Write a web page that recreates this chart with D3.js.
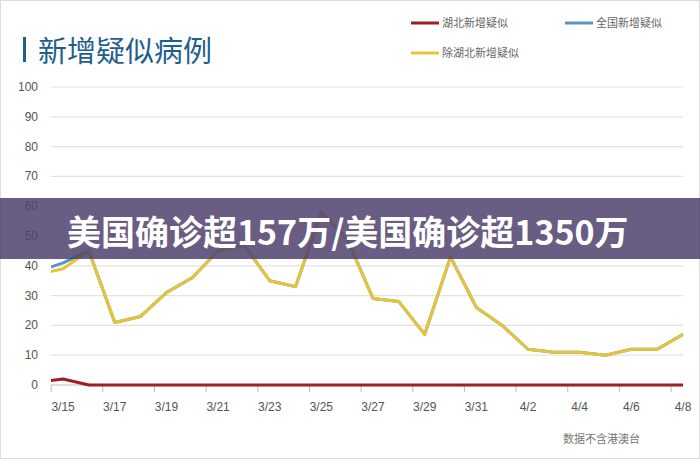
<!DOCTYPE html>
<html><head><meta charset="utf-8">
<script src="https://cdn.jsdelivr.net/npm/d3@7"></script>
<style>body{margin:0;background:#fff}svg{display:block;font-family:"Noto Sans CJK SC",sans-serif}</style>
</head><body><svg id="c" width="700" height="459"></svg>
<script>
// first entry (3/14) only shows as the stub at the left edge
var dates = ["3/14","3/15","3/16","3/17","3/18","3/19","3/20","3/21","3/22","3/23","3/24","3/25","3/26","3/27","3/28","3/29","3/30","3/31","4/1","4/2","4/3","4/4","4/5","4/6","4/7","4/8"];
var hubei = [1,2,0,0,0,0,0,0,0,0,0,0,0,0,0,0,0,0,0,0,0,0,0,0,0,0];
var others = [37,39,45,21,23,31,36,45,47,35,33,58,49,29,28,17,43,26,20,12,11,11,10,12,12,17];
var national = others.map(function(v,i){ return v + hubei[i]; });
var yTicks = [0,10,20,30,40,50,60,70,80,90,100];
var tickLabels = ["3/15","3/17","3/19","3/21","3/23","3/25","3/27","3/29","3/31","4/2","4/4","4/6","4/8"];

var svg = d3.select("#c");
svg.append("rect").attr("x",0.5).attr("y",0.5).attr("width",699).attr("height",458).attr("fill","none").attr("stroke","#ddd");

var left = 51, right = 683;
var x = d3.scalePoint().domain(dates).range([right - 25.83*25, right]);
var y = d3.scaleLinear().domain([0,100]).range([385,87]);

svg.append("clipPath").attr("id","clip").append("rect").attr("x",left).attr("y",0).attr("width",right-left+5).attr("height",459);

svg.selectAll(".grid").data(yTicks).enter().append("line")
  .attr("x1",left).attr("x2",right).attr("y1",d=>y(d)).attr("y2",d=>y(d))
  .attr("stroke",d=>d===0?"#bbb":"#e3e3e3").attr("stroke-width",1.2);
svg.selectAll(".yl").data(yTicks).enter().append("text")
  .attr("x",38).attr("y",d=>y(d)+4).attr("text-anchor","end")
  .attr("font-size",12).attr("fill","#555").attr("font-family","Liberation Sans, Arial").text(d=>d);

var step = x.step();
svg.selectAll(".tk").data(tickLabels).enter().append("line")
  .attr("x1",d=>x(d)-step/2+1).attr("x2",d=>x(d)-step/2+1).attr("y1",385).attr("y2",392)
  .attr("stroke","#bbb");
svg.selectAll(".xl").data(tickLabels).enter().append("text")
  .attr("x",d=>x(d)).attr("y",411).attr("text-anchor","middle")
  .attr("font-size",12).attr("fill","#555").attr("font-family","Liberation Sans, Arial").text(d=>d);

var line = d3.line().x((d,i)=>x(dates[i])).y(d=>y(d));
var g = svg.append("g").attr("clip-path","url(#clip)");
[[national,"#5b95c2"],[hubei,"#a01d22"],[others,"#e6c43a"]].forEach(function(s){
  g.append("path").attr("d",line(s[0])).attr("fill","none").attr("stroke",s[1]).attr("stroke-width",3).attr("stroke-linejoin","round");
});

svg.append("rect").attr("x",23).attr("y",37).attr("width",3).attr("height",25).attr("fill","#1f5f8b");
svg.append("text").attr("x",38).attr("y",62).attr("font-size",29).attr("fill","#1f5f8b").text("新增疑似病例");

var legend = [["湖北新增疑似","#a01d22",411,23],["全国新增疑似","#5b95c2",565,23],["除湖北新增疑似","#e6c43a",411,53]];
legend.forEach(function(l){
  svg.append("line").attr("x1",l[2]).attr("x2",l[2]+28).attr("y1",l[3]).attr("y2",l[3]).attr("stroke",l[1]).attr("stroke-width",3);
  svg.append("text").attr("x",l[2]+31).attr("y",l[3]+4).attr("font-size",11).attr("fill","#666").text(l[0]);
});

svg.append("text").attr("x",563).attr("y",443).attr("font-size",11).attr("fill","#777").text("数据不含港澳台");

svg.append("rect").attr("x",0).attr("y",198).attr("width",700).attr("height",61).attr("fill","#4f416e").attr("opacity",0.85);
svg.append("text").attr("x",67).attr("y",245).attr("font-size",34).attr("font-weight","bold").attr("fill","#fff").text("美国确诊超157万/美国确诊超1350万");
</script></body></html>
